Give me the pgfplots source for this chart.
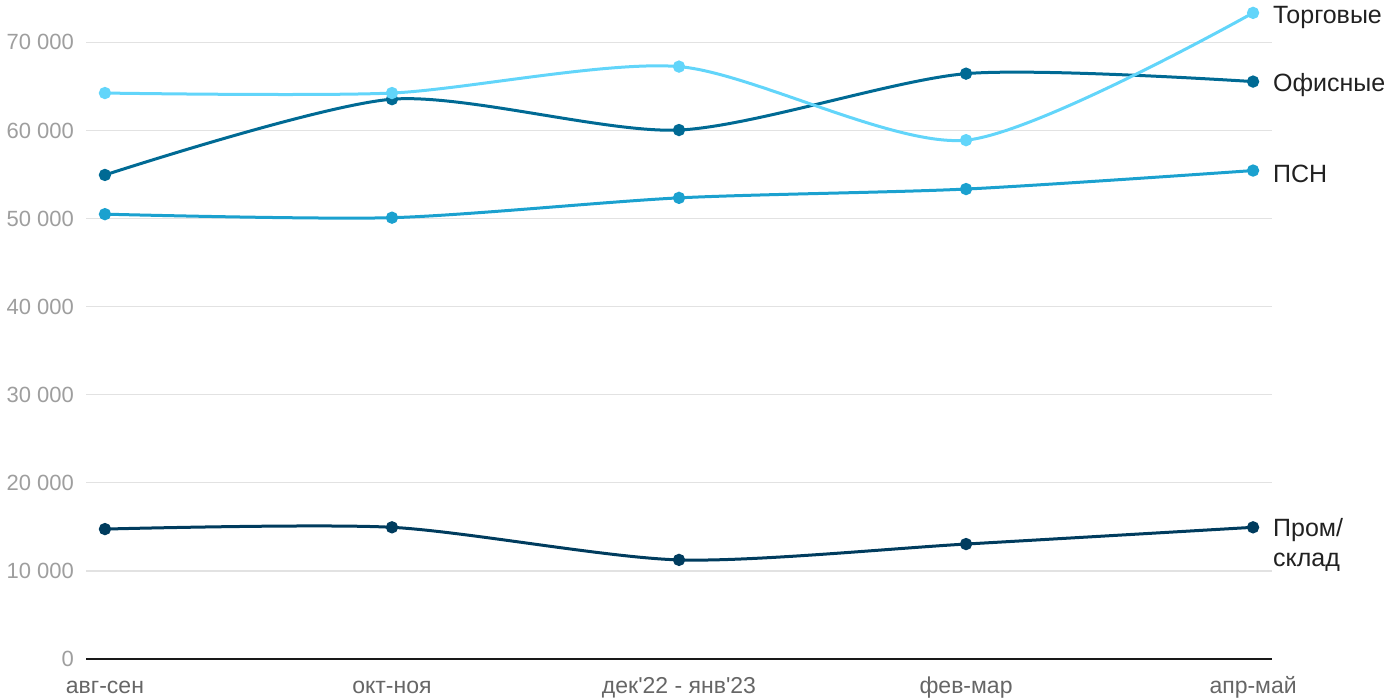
\documentclass[border=0pt]{standalone}
\usepackage{pgfplots}
\pgfplotsset{compat=1.18}
\usepackage{fontspec}
\setmainfont{Liberation Sans}[Ligatures=TeXOff]
\definecolor{ctorg}{HTML}{62D5FA}
\definecolor{cofis}{HTML}{006A94}
\definecolor{cpsn}{HTML}{1BA1CF}
\definecolor{cprom}{HTML}{003C5E}
\definecolor{gridc}{HTML}{E2E2E2}
\definecolor{ytc}{HTML}{9E9E9E}
\definecolor{xtc}{HTML}{666666}
\begin{document}
\begin{tikzpicture}
\path[use as bounding box] (0,0) rectangle (700pt,350pt);
\begin{axis}[
  at={(43pt,20.5pt)}, anchor=south west,
  scale only axis, width=593pt, height=329pt,
  xmin=-0.066, xmax=4.066, ymin=0, ymax=74700,
  axis line style={draw=none},
  xtick={0,1,2,3,4},
  xticklabels={авг-сен,окт-ноя,дек'22 - янв'23,фев-мар,апр-май},
  ytick={0,10000,20000,30000,40000,50000,60000,70000},
  yticklabels={0,10 000,20 000,30 000,40 000,50 000,60 000,70 000},
  major tick length=0pt,
  ymajorgrids, grid style={gridc, line width=0.6pt},
  yticklabel style={font=\fontsize{11}{13}\selectfont, text=ytc, xshift=-2.5pt},
  xticklabel style={font=\fontsize{11.5}{13}\selectfont, text=xtc, anchor=base, yshift=-17pt},
  clip=false,
  every axis plot/.append style={line width=1.5pt, smooth, tension=0.45, mark=*, mark size=2.3pt},
]
\draw[black!90, line width=1pt] (axis cs:-0.066,0) -- (axis cs:4.066,0);
\addplot[color=cprom, mark options={fill=cprom}] coordinates {(0,14750) (1,14950) (2,11250) (3,13050) (4,14950)};
\addplot[color=cpsn, mark options={fill=cpsn}] coordinates {(0,50500) (1,50100) (2,52350) (3,53350) (4,55450)};
\addplot[color=cofis, mark options={fill=cofis}] coordinates {(0,54950) (1,63550) (2,60050) (3,66450) (4,65550)};
\addplot[color=ctorg, mark options={fill=ctorg}] coordinates {(0,64250) (1,64250) (2,67250) (3,58900) (4,73350)};
\node[anchor=west, font=\fontsize{12.5}{14}\selectfont, text=black!87, xshift=6.5pt, yshift=-2.5pt] at (axis cs:4,73350) {Торговые};
\node[anchor=west, font=\fontsize{12.5}{14}\selectfont, text=black!87, xshift=6.5pt, yshift=-1.5pt] at (axis cs:4,65550) {Офисные};
\node[anchor=west, font=\fontsize{12.5}{14}\selectfont, text=black!87, xshift=6.5pt, yshift=-1.5pt] at (axis cs:4,55450) {ПСН};
\node[anchor=west, align=left, font=\fontsize{12.5}{15}\selectfont, text=black!87, xshift=6.5pt, yshift=-9pt] at (axis cs:4,14950) {Пром/\\склад};
\end{axis}
\end{tikzpicture}
\end{document}
